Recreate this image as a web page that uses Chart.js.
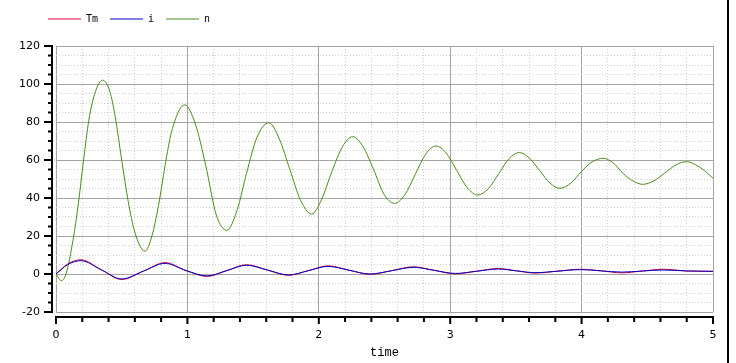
<!DOCTYPE html>
<html>
<head>
<meta charset="utf-8">
<script src="https://cdn.jsdelivr.net/npm/chart.js@4"></script>
<style>
  body { margin: 0; background: #fff; }
  #wrap { position: relative; width: 736px; height: 363px; }
  #edge { position: absolute; left: 727px; top: 0; width: 2px; height: 363px; background: #000; }
</style>
</head>
<body>
<div id="wrap">
  <canvas id="myChart" width="736" height="363"></canvas>
  <div id="edge"></div>
</div>
<script>
// n (speed): peaks, troughs and points between them
var nTime = [0, 0.04, 0.076, 0.13, 0.17, 0.21, 0.25, 0.30, 0.355,
  0.41, 0.45, 0.50, 0.55, 0.60, 0.677,
  0.73, 0.78, 0.83, 0.88, 0.98,
  1.06, 1.14, 1.22, 1.30,
  1.38, 1.45, 1.53, 1.62,
  1.70, 1.78, 1.86, 1.946,
  2.02, 2.10, 2.18, 2.258,
  2.337, 2.417, 2.496, 2.575,
  2.654, 2.733, 2.813, 2.892,
  2.97, 3.05, 3.13, 3.21,
  3.29, 3.37, 3.447, 3.526,
  3.60, 3.68, 3.76, 3.836,
  3.92, 4.0, 4.08, 4.165,
  4.24, 4.315, 4.39, 4.465,
  4.55, 4.63, 4.72, 4.80,
  4.88, 4.95, 5.0];
var nValues = [0, -3.5, 0, 18, 37, 60, 81, 96, 102,
  96, 83, 60, 38, 22, 12,
  20, 36, 57, 75, 89,
  79, 57, 31, 23,
  34, 53, 72, 79.6,
  71, 55, 39, 31.6,
  39, 54, 67, 72.3,
  67, 55, 42, 37.2,
  41.6, 52.3, 63, 67.4,
  63.6, 54.5, 45.4, 41.6,
  44.9, 52.8, 60.6, 63.9,
  61.2, 54.5, 47.8, 45.1,
  48, 54, 59, 60.9,
  58.5, 53, 49, 47.2,
  49, 53, 57.5, 59.1,
  57, 53.5, 50.4];

// Tm and i share the same time points
var curTime = [0, 0.09, 0.19, 0.345, 0.50, 0.665, 0.83, 0.99, 1.15, 1.30, 1.45, 1.61, 1.77, 1.92, 2.07,
  2.23, 2.39, 2.555, 2.72, 2.88, 3.04, 3.20, 3.366, 3.505, 3.645, 3.82, 3.99, 4.15, 4.305, 4.46, 4.62, 4.80, 5.0];
var iValues = [0, 5, 7, 2.2, -2.6, 1.5, 5.6, 1.8, -1.0, 1.8, 4.6, 2.05, -0.5, 1.75, 4.0,
  2.0, 0, 1.75, 3.5, 1.9, 0.3, 1.45, 2.6, 1.65, 0.7, 1.5, 2.3, 1.65, 1.0, 1.55, 2.1, 1.6, 1.4];
var tmValues = [0, 5.3, 7.5, 2.2, -2.9, 1.5, 6.0, 1.8, -1.3, 1.8, 4.9, 2.05, -0.7, 1.75, 4.3,
  2.0, -0.2, 1.75, 3.8, 1.9, 0.1, 1.45, 2.9, 1.65, 0.5, 1.5, 2.5, 1.65, 0.6, 1.55, 2.5, 1.6, 1.4];

var xMin = 0, xMax = 5, xStep = 0.2, xMajor = 1;
var yMin = -20, yMax = 120, yStep = 5, yMajor = 20;

function pairs(xs, ys) {
  return xs.map(function (x, k) { return {x: x, y: ys[k]}; });
}
function isMajor(v, m) {
  var r = v / m;
  return Math.abs(r - Math.round(r)) < 1e-6;
}

// black axes drawn a few pixels outside the plot frame, like the original
var axisLines = {
  id: 'axisLines',
  afterDraw: function (chart) {
    var ctx = chart.ctx, area = chart.chartArea, xs = chart.scales.x, ys = chart.scales.y;
    var ax = area.left - 4, ay = area.bottom + 5;
    ctx.save();
    ctx.strokeStyle = '#000';
    ctx.lineWidth = 2;
    ctx.beginPath();
    ctx.moveTo(ax, area.top - 1); ctx.lineTo(ax, area.bottom + 1);
    ctx.moveTo(area.left - 1, ay); ctx.lineTo(area.right + 1, ay);
    ys.ticks.forEach(function (t) {
      var p = ys.getPixelForValue(t.value);
      ctx.moveTo(ax, p); ctx.lineTo(ax - (isMajor(t.value, yMajor) ? 8 : 4), p);
    });
    xs.ticks.forEach(function (t) {
      var p = xs.getPixelForValue(t.value);
      ctx.moveTo(p, ay); ctx.lineTo(p, ay + (isMajor(t.value, xMajor) ? 7 : 5));
    });
    ctx.stroke();
    ctx.restore();
  }
};

// legend band is 46px tall and starts above the y axis line
var legendSpace = {
  id: 'legendSpace',
  beforeInit: function (chart) {
    var fit = chart.legend.fit;
    chart.legend.fit = function () {
      fit.bind(chart.legend)();
      this.height = 46;
    };
  },
  afterLayout: function (chart) {
    chart.legend.left = 36;
    chart.legend.top = 2;
  }
};

var gridColor = function (ctx, m) { return isMajor(ctx.tick.value, m) ? '#a4a4a4' : '#d0d0d0'; };
var gridDash = function (ctx, m) { return isMajor(ctx.tick.value, m) ? [] : [1, 2]; };

new Chart(document.getElementById('myChart').getContext('2d'), {
  type: 'line',
  data: {
    datasets: [
      {label: 'Tm', data: pairs(curTime, tmValues), borderColor: '#e4002c', order: 1},
      {label: 'i', data: pairs(curTime, iValues), borderColor: '#0000c8', order: 0},
      {label: 'n', data: pairs(nTime, nValues), borderColor: '#4a8a1c', order: 2}
    ]
  },
  options: {
    responsive: false,
    animation: false,
    layout: {padding: {left: 10, right: 23, top: 0, bottom: 0}},
    elements: {
      point: {radius: 0},
      line: {borderWidth: 1, cubicInterpolationMode: 'monotone', fill: false}
    },
    plugins: {
      tooltip: {enabled: false},
      legend: {
        align: 'start',
        labels: {
          usePointStyle: true,
          pointStyle: 'line',
          pointStyleWidth: 33,
          padding: 12,
          color: '#000',
          font: {family: '"DejaVu Sans Mono"', size: 10},
          sort: function (a, b) { return a.datasetIndex - b.datasetIndex; }
        }
      }
    },
    scales: {
      x: {
        type: 'linear',
        min: xMin, max: xMax,
        afterFit: function (s) { s.height = 51; },
        ticks: {
          stepSize: xStep, autoSkip: false, maxRotation: 0, padding: 17,
          color: '#000', font: {family: '"DejaVu Sans"', size: 11},
          callback: function (v) { return isMajor(v, xMajor) ? String(Math.round(v)) : ''; }
        },
        grid: {drawTicks: false, lineWidth: 1, color: function (c) { return gridColor(c, xMajor); }},
        border: {display: false, dash: function (c) { return gridDash(c, xMajor); }},
        title: {display: true, text: 'time', color: '#000', padding: {top: 0, bottom: 3},
          font: {family: '"Liberation Mono"', size: 12}}
      },
      y: {
        type: 'linear',
        min: yMin, max: yMax,
        afterFit: function (s) { s.width = 46; },
        ticks: {
          stepSize: yStep, autoSkip: false, padding: 16,
          color: '#000', font: {family: '"DejaVu Sans"', size: 11},
          callback: function (v) { return isMajor(v, yMajor) ? String(Math.round(v)) : ''; }
        },
        grid: {drawTicks: false, lineWidth: 1, color: function (c) { return gridColor(c, yMajor); }},
        border: {display: false, dash: function (c) { return gridDash(c, yMajor); }}
      }
    }
  },
  plugins: [axisLines, legendSpace]
});
</script>
</body>
</html>
